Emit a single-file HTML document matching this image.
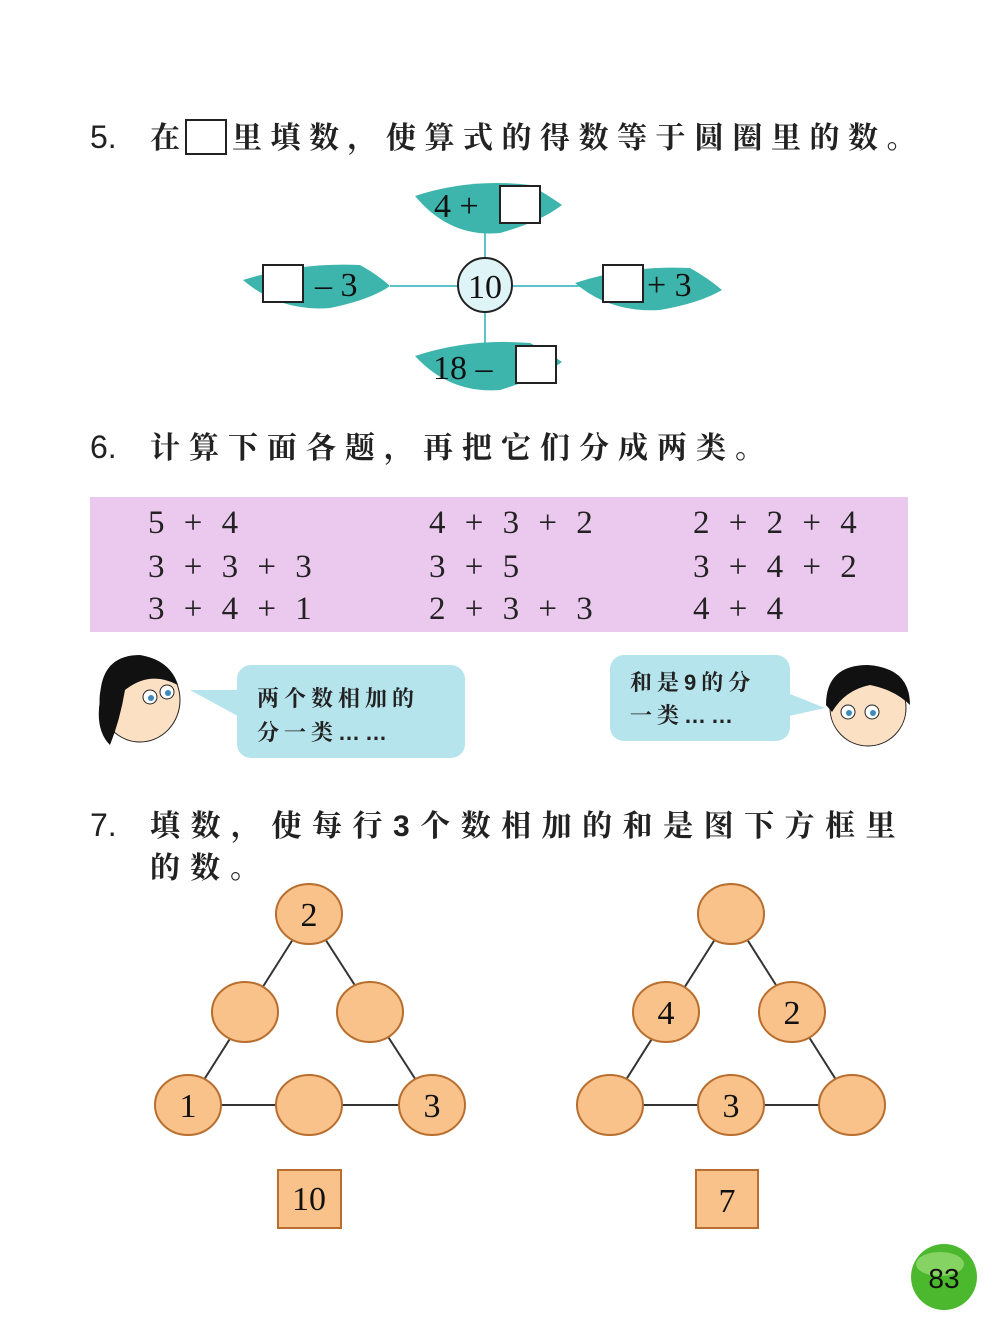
<!DOCTYPE html>
<html><head><meta charset="utf-8"><style>
body{margin:0;background:#fff;}
svg{display:block}
.t{font-family:"Liberation Serif","Noto Serif CJK SC",serif;}
.c{font-family:"Liberation Sans","Noto Serif CJK SC",serif;font-weight:bold;}
</style></head><body>
<svg width="1000" height="1336" viewBox="0 0 1000 1336" xmlns="http://www.w3.org/2000/svg">
<rect width="1000" height="1336" fill="#fff"/>
<!-- section 5 -->
<text x="90" y="148" font-family="Liberation Sans" font-size="32" fill="#222">5.</text>
<text x="150" y="148" class="c" font-size="30" fill="#222">在</text>
<rect x="186" y="120" width="40" height="34" fill="#fff" stroke="#222" stroke-width="2"/>
<text x="232" y="148" class="c" font-size="30" fill="#222" letter-spacing="8.5">里填数，使算式的得数等于圆圈里的数。</text>
<g stroke="#5cc4c8" stroke-width="2">
<line x1="485" y1="225" x2="485" y2="345"/><line x1="390" y1="286" x2="600" y2="286"/></g>
<g fill="#3db5ad">
<path d="M415 196 Q470 178 530 185 Q548 195 562 205 Q540 222 500 233 Q450 238 415 196Z"/>
<path d="M243 280 Q300 262 360 265 Q378 275 390 286 Q370 300 330 308 Q280 312 243 280Z"/>
<path d="M575 283 Q630 265 690 268 Q708 278 722 290 Q700 303 660 310 Q610 313 575 283Z"/>
<path d="M415 356 Q470 338 530 343 Q548 352 562 362 Q540 378 500 390 Q450 394 415 356Z"/>
</g>
<circle cx="485" cy="285" r="27" fill="#dff4f7" stroke="#222" stroke-width="2"/>
<text x="485" y="298" text-anchor="middle" class="t" font-size="34" fill="#111">10</text>
<text x="434" y="217" class="t" font-size="34" fill="#111">4 +</text>
<rect x="500" y="186" width="40" height="37" fill="#fff" stroke="#222" stroke-width="2"/>
<rect x="263" y="265" width="40" height="37" fill="#fff" stroke="#222" stroke-width="2"/>
<text x="315" y="296" class="t" font-size="34" fill="#111">– 3</text>
<rect x="603" y="265" width="40" height="37" fill="#fff" stroke="#222" stroke-width="2"/>
<text x="647" y="296" class="t" font-size="34" fill="#111">+ 3</text>
<text x="433" y="379" class="t" font-size="34" fill="#111">18 –</text>
<rect x="516" y="346" width="40" height="37" fill="#fff" stroke="#222" stroke-width="2"/>
<!-- section 6 -->
<text x="90" y="458" font-family="Liberation Sans" font-size="32" fill="#222">6.</text>
<text x="150" y="458" class="c" font-size="30" fill="#222" letter-spacing="9">计算下面各题，再把它们分成两类。</text>
<rect x="90" y="497" width="818" height="135" fill="#ebc9ee"/>
<g class="t" font-size="33" fill="#222" style="word-spacing:11px">
<text x="148" y="533">5 + 4</text><text x="148" y="577">3 + 3 + 3</text><text x="148" y="619">3 + 4 + 1</text>
<text x="429" y="533">4 + 3 + 2</text><text x="429" y="577">3 + 5</text><text x="429" y="619">2 + 3 + 3</text>
<text x="693" y="533">2 + 2 + 4</text><text x="693" y="577">3 + 4 + 2</text><text x="693" y="619">4 + 4</text>
</g>
<!-- bubbles -->
<path d="M190 690 L245 690 L245 720Z" fill="#b6e4ed"/>
<rect x="237" y="665" width="228" height="93" rx="14" fill="#b6e4ed"/>
<text x="257" y="706" class="c" font-size="22" fill="#222" letter-spacing="5">两个数相加的</text>
<text x="257" y="740" class="c" font-size="22" fill="#222" letter-spacing="5">分一类……</text>
<path d="M780 690 L825 708 L780 718Z" fill="#b6e4ed"/>
<rect x="610" y="655" width="180" height="86" rx="14" fill="#b6e4ed"/>
<text x="630" y="690" class="c" font-size="22" fill="#222" letter-spacing="5">和是9的分</text>
<text x="630" y="723" class="c" font-size="22" fill="#222" letter-spacing="5">一类……</text>
<!-- girl -->
<ellipse cx="140" cy="700" rx="40" ry="42" fill="#fbe0c4" stroke="#222"/>
<path d="M100 700 Q100 655 140 655 Q170 660 178 685 Q150 670 125 690 Q120 720 110 745 Q95 730 100 700Z" fill="#111"/>
<circle cx="150" cy="697" r="7" fill="#fff" stroke="#222"/><circle cx="167" cy="692" r="7" fill="#fff" stroke="#222"/>
<circle cx="151" cy="698" r="3" fill="#3a8ac0"/><circle cx="168" cy="693" r="3" fill="#3a8ac0"/>
<!-- boy -->
<ellipse cx="868" cy="708" rx="38" ry="38" fill="#fbe0c4" stroke="#222"/>
<path d="M826 705 Q826 665 868 665 Q910 668 910 705 Q895 690 870 685 Q845 690 832 712Z" fill="#111"/>
<circle cx="848" cy="712" r="7" fill="#fff" stroke="#222"/><circle cx="872" cy="712" r="7" fill="#fff" stroke="#222"/>
<circle cx="849" cy="713" r="3" fill="#3a8ac0"/><circle cx="873" cy="713" r="3" fill="#3a8ac0"/>
<!-- section 7 -->
<text x="90" y="836" font-family="Liberation Sans" font-size="32" fill="#222">7.</text>
<text x="150" y="836" class="c" font-size="30" fill="#222" letter-spacing="10.5">填数，使每行3个数相加的和是图下方框里</text>
<text x="150" y="878" class="c" font-size="30" fill="#222" letter-spacing="10">的数。</text>
<g stroke="#333" stroke-width="2">
<line x1="309" y1="914" x2="188" y2="1105"/><line x1="309" y1="914" x2="432" y2="1105"/><line x1="188" y1="1105" x2="432" y2="1105"/>
<line x1="731" y1="914" x2="610" y2="1105"/><line x1="731" y1="914" x2="852" y2="1105"/><line x1="610" y1="1105" x2="852" y2="1105"/>
</g>
<g fill="#f9c28b" stroke="#b86e2e" stroke-width="2">
<ellipse cx="309" cy="914" rx="33" ry="30"/><ellipse cx="245" cy="1012" rx="33" ry="30"/><ellipse cx="370" cy="1012" rx="33" ry="30"/>
<ellipse cx="188" cy="1105" rx="33" ry="30"/><ellipse cx="309" cy="1105" rx="33" ry="30"/><ellipse cx="432" cy="1105" rx="33" ry="30"/>
<ellipse cx="731" cy="914" rx="33" ry="30"/><ellipse cx="666" cy="1012" rx="33" ry="30"/><ellipse cx="792" cy="1012" rx="33" ry="30"/>
<ellipse cx="610" cy="1105" rx="33" ry="30"/><ellipse cx="731" cy="1105" rx="33" ry="30"/><ellipse cx="852" cy="1105" rx="33" ry="30"/>
<rect x="278" y="1170" width="63" height="58"/><rect x="696" y="1170" width="62" height="58"/>
</g>
<g class="t" font-size="34" fill="#111" text-anchor="middle">
<text x="309" y="926">2</text><text x="188" y="1117">1</text><text x="432" y="1117">3</text>
<text x="666" y="1024">4</text><text x="792" y="1024">2</text><text x="731" y="1117">3</text>
<text x="309" y="1210">10</text><text x="727" y="1212">7</text>
</g>
<!-- page number -->
<circle cx="944" cy="1277" r="33" fill="#4cb82e"/>
<ellipse cx="940" cy="1264" rx="24" ry="12" fill="#9ee07a" opacity="0.7"/>
<text x="944" y="1288" text-anchor="middle" font-family="Liberation Sans" font-size="28" fill="#111">83</text>
</svg>
</body></html>
